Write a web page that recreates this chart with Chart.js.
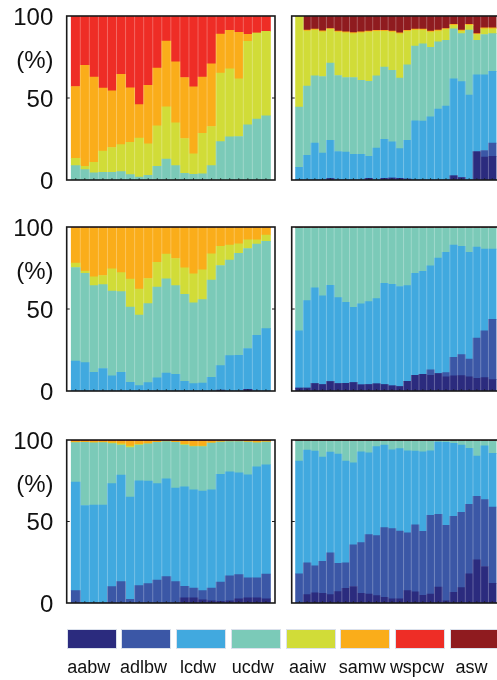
<!DOCTYPE html>
<html>
<head>
<meta charset="utf-8">
<script src="https://cdn.jsdelivr.net/npm/chart.js@4.4.1/dist/chart.umd.min.js"></script>
<style>
  html, body { margin: 0; padding: 0; background: #fff; overflow: hidden; width: 497px; height: 680px; }
  body { position: relative; font-family: 'Liberation Sans', Arial, Helvetica, sans-serif; color: #111; }
  canvas { position: absolute; }
  .pct { position: absolute; left: 0; width: 53.5px; text-align: right; font-size: 24px; line-height: 28px; }
  .key { position: absolute; top: 629px; width: 50px; height: 20px; box-sizing: border-box; border: 1px solid #dbe1ec; }
  .key-label { position: absolute; top: 656px; width: 80px; text-align: center; font-size: 18px; line-height: 22px; white-space: nowrap; }
</style>
</head>
<body>
<script>
// water masses, bottom of the stack first
const waterMasses = ['aabw', 'adlbw', 'lcdw', 'ucdw', 'aaiw', 'samw', 'wspcw', 'asw'];
const massColors = ['#2b2b7e', '#3b57a6', '#41a9df', '#7bcab8', '#d1dc38', '#faad1a', '#ee2d26', '#8f1b1f'];
const yTicks = [0, 50, 100];

// bar positions (one per profile)
const leftBars = Array.from({ length: 22 }, (_, i) => i + 1);
const rightBars = Array.from({ length: 26 }, (_, i) => i + 1);

// top left panel (% of each water mass)
const panelA = {
    ucdw:  [8.8, 6.3, 4.3, 4.7, 4.7, 5.1, 3.3, 1.8, 2.9, 8.4, 12.8, 8.8, 4.1, 3.5, 3.7, 8.8, 23.4, 26.3, 26.5, 33.6, 37.1, 39.1],
    aaiw:  [4.4, 2.1, 6.5, 13.0, 15.1, 16.5, 19.7, 23.7, 19.1, 24.6, 31.8, 26.0, 21.2, 12.4, 24.8, 23.8, 41.8, 41.5, 35.2, 50.9, 52.5, 51.5],
    samw:  [43.8, 61.5, 51.9, 38.3, 34.6, 42.8, 33.2, 20.5, 35.8, 35.2, 40.1, 37.3, 37.2, 40.9, 34.2, 38.3, 23.8, 23.4, 28.3, 4.3, 0, 0],
    wspcw: [43.0, 30.1, 37.3, 44.0, 45.6, 35.6, 43.8, 54.0, 42.2, 31.8, 15.3, 27.9, 37.5, 43.2, 37.3, 29.1, 11.0, 8.8, 10.0, 11.2, 10.4, 9.4]
};

// top right panel
const panelB = {
    aabw:  [0, 0, 0, 0, 0.8, 0, 0, 0, 0, 1.0, 0, 1.0, 1.2, 1.0, 0.5, 0, 0, 0, 0, 0, 2.5, 1.5, 0, 17.0, 13.9, 14.5],
    adlbw: [0, 0, 0, 0, 0, 0, 0, 0, 0, 0, 0, 0, 0, 0, 0, 0, 0, 0, 0, 0, 0, 0, 0, 0.5, 4.1, 8.0],
    lcdw:  [7.8, 15.0, 22.5, 16.4, 23.4, 17.4, 17.0, 15.6, 15.6, 13.5, 19.5, 23.8, 22.0, 18.1, 23.7, 36.1, 35.9, 38.5, 43.2, 45.1, 59.2, 58.5, 51.8, 46.6, 46.1, 43.7],
    ucdw:  [36.7, 42.2, 41.0, 46.7, 47.1, 46.3, 45.5, 46.9, 45.1, 45.7, 44.0, 44.1, 43.6, 43.0, 46.1, 45.5, 47.1, 42.4, 41.0, 40.1, 30.5, 29.3, 39.6, 21.1, 24.6, 23.1],
    aaiw:  [55.5, 33.6, 27.9, 27.3, 20.5, 26.5, 27.3, 26.8, 29.1, 30.0, 27.1, 21.7, 23.4, 27.0, 20.3, 9.8, 8.4, 9.3, 6.6, 6.6, 2.1, 1.5, 2.9, 3.5, 3.5, 2.9],
    samw:  [0, 0.6, 0.6, 0.6, 0.6, 0.6, 0.6, 0.6, 0.6, 0.6, 0.6, 0.6, 0.6, 0.6, 0.6, 0.6, 0.6, 0.6, 0.6, 0.6, 0.6, 0.6, 0.6, 0.6, 0.6, 0.6],
    asw:   [0, 8.6, 8.0, 9.0, 7.6, 9.2, 9.6, 10.1, 9.6, 9.2, 8.8, 8.8, 9.2, 10.3, 8.8, 8.0, 8.0, 9.2, 8.6, 7.6, 5.1, 8.6, 5.1, 10.7, 7.2, 7.2]
};

// middle left panel
const panelC = {
    aabw:  [0, 0, 0, 0, 0, 0, 0, 0, 0, 0, 0, 0, 0, 0, 0, 0, 0.6, 0, 0, 1.0, 0, 0],
    lcdw:  [18.2, 17.3, 11.4, 13.7, 9.2, 11.4, 5.3, 3.3, 5.1, 8.0, 11.0, 10.2, 5.9, 4.5, 4.9, 8.4, 14.9, 21.6, 21.8, 24.9, 33.9, 38.0],
    ucdw:  [57.1, 54.5, 52.9, 51.2, 51.8, 49.2, 45.9, 43.0, 48.2, 55.3, 57.4, 54.1, 53.1, 49.2, 50.8, 59.2, 61.0, 58.2, 62.1, 61.0, 55.7, 53.2],
    aaiw:  [2.7, 1.3, 5.3, 5.5, 13.5, 11.6, 17.0, 15.9, 15.3, 15.1, 15.1, 16.5, 16.1, 17.7, 18.2, 16.1, 11.7, 9.2, 5.9, 5.3, 2.6, 3.9],
    samw:  [21.5, 26.4, 29.9, 29.1, 25.0, 27.3, 31.3, 37.3, 30.9, 21.1, 16.0, 18.7, 24.4, 28.1, 25.6, 15.8, 11.3, 10.5, 9.7, 7.3, 7.3, 4.4],
    wspcw: [0.5, 0.5, 0.5, 0.5, 0.5, 0.5, 0.5, 0.5, 0.5, 0.5, 0.5, 0.5, 0.5, 0.5, 0.5, 0.5, 0.5, 0.5, 0.5, 0.5, 0.5, 0.5]
};

// middle right panel
const panelD = {
    aabw:  [1.8, 1.8, 4.5, 3.9, 5.7, 4.5, 4.7, 5.1, 3.7, 3.9, 4.3, 3.9, 3.1, 2.7, 5.9, 9.6, 10.2, 9.5, 10.6, 8.6, 9.2, 9.4, 8.6, 7.8, 8.2, 6.9],
    adlbw: [0, 0, 0, 0, 0, 0, 0, 0, 0, 0, 0, 0, 0, 0, 0, 0, 0, 3.4, 0, 2.6, 11.4, 12.8, 10.8, 24.4, 28.5, 36.8],
    lcdw:  [34.9, 53.3, 58.4, 54.1, 58.8, 52.4, 49.4, 45.9, 49.4, 50.6, 52.0, 61.8, 62.0, 61.0, 58.4, 62.2, 62.7, 63.4, 70.4, 73.3, 68.4, 66.0, 65.1, 55.6, 49.8, 42.8],
    ucdw:  [62.7, 44.3, 36.5, 41.4, 34.9, 42.5, 45.3, 48.4, 46.3, 44.9, 43.1, 33.7, 34.3, 35.7, 35.1, 27.6, 26.5, 23.1, 18.4, 14.9, 10.4, 11.2, 14.9, 11.6, 12.9, 12.9],
    asw:   [0.6, 0.6, 0.6, 0.6, 0.6, 0.6, 0.6, 0.6, 0.6, 0.6, 0.6, 0.6, 0.6, 0.6, 0.6, 0.6, 0.6, 0.6, 0.6, 0.6, 0.6, 0.6, 0.6, 0.6, 0.6, 0.6]
};

// bottom left panel
const panelE = {
    aabw:  [0, 0, 0, 0, 0, 0, 0, 0, 0, 0, 0, 0, 3.1, 3.1, 2.0, 1.4, 1.0, 1.4, 2.5, 3.1, 3.1, 2.5],
    adlbw: [7.6, 0, 0, 0, 10.0, 13.1, 2.3, 10.7, 11.9, 14.1, 16.2, 13.1, 7.1, 6.1, 5.6, 7.8, 11.9, 15.2, 14.9, 12.3, 12.3, 15.3],
    lcdw:  [66.6, 59.8, 60.0, 60.0, 63.2, 65.4, 62.7, 64.3, 62.9, 59.1, 60.0, 57.4, 61.1, 60.3, 61.0, 60.3, 66.0, 63.9, 62.5, 63.3, 68.2, 67.0],
    ucdw:  [24.2, 38.8, 38.2, 38.4, 24.6, 18.4, 30.3, 21.9, 22.8, 25.4, 22.8, 28.1, 25.6, 26.4, 27.3, 28.6, 19.9, 18.5, 19.1, 20.1, 14.6, 14.0],
    aaiw:  [0, 0, 0, 0, 0.4, 0.8, 1.0, 0.4, 0, 0, 0, 0, 0.4, 0.4, 0.4, 0, 0, 0, 0, 0, 0, 0],
    samw:  [0.8, 0.6, 1.0, 0.8, 1.0, 1.5, 2.9, 1.9, 1.6, 0.6, 0.2, 0.6, 1.9, 2.9, 2.9, 1.1, 0.4, 0.2, 0.2, 0.4, 1.0, 0.4],
    wspcw: [0.8, 0.8, 0.8, 0.8, 0.8, 0.8, 0.8, 0.8, 0.8, 0.8, 0.8, 0.8, 0.8, 0.8, 0.8, 0.8, 0.8, 0.8, 0.8, 0.8, 0.8, 0.8]
};

// bottom right panel
const panelF = {
    aabw:  [0, 5.1, 6.2, 6.0, 5.1, 7.0, 9.0, 10.1, 6.0, 5.5, 4.5, 3.5, 2.5, 2.5, 7.6, 6.8, 4.7, 5.5, 9.7, 1.4, 6.6, 9.4, 17.9, 26.5, 22.4, 12.1],
    adlbw: [17.9, 19.5, 16.6, 19.5, 25.7, 17.4, 15.6, 25.6, 31.0, 36.4, 36.8, 42.7, 43.1, 41.6, 35.5, 41.2, 39.2, 48.3, 44.7, 46.2, 46.6, 46.2, 42.7, 39.0, 41.0, 46.8],
    lcdw:  [69.2, 69.2, 70.4, 64.0, 61.8, 67.0, 62.5, 50.3, 55.8, 50.3, 54.6, 50.7, 48.4, 50.6, 50.3, 45.2, 48.9, 39.6, 44.4, 51.0, 44.7, 41.3, 34.3, 24.6, 33.1, 32.9],
    ucdw:  [12.3, 5.6, 6.2, 9.9, 6.8, 8.0, 12.3, 13.4, 6.6, 7.2, 3.5, 2.5, 5.4, 4.7, 6.0, 6.2, 6.6, 6.0, 0.6, 0.8, 1.5, 2.5, 4.5, 9.3, 2.9, 7.6],
    asw:   [0.6, 0.6, 0.6, 0.6, 0.6, 0.6, 0.6, 0.6, 0.6, 0.6, 0.6, 0.6, 0.6, 0.6, 0.6, 0.6, 0.6, 0.6, 0.6, 0.6, 0.6, 0.6, 0.6, 0.6, 0.6, 0.6]
};

// frame, faint bar edges and the little inward ticks
const panelFrame = {
    id: 'panelFrame',
    afterDatasetsDraw(chart) {
        const { ctx, chartArea: a } = chart;
        const x = chart.scales.x, y = chart.scales.y;
        const bars = chart.data.labels;
        ctx.save();
        ctx.strokeStyle = 'rgba(255,255,255,0.35)';
        ctx.lineWidth = 0.8;
        for (let i = 0; i < bars.length - 1; i++) {
            const px = x.getPixelForValue(bars[i] + 0.5);
            ctx.beginPath();
            ctx.moveTo(px, a.top);
            ctx.lineTo(px, a.bottom);
            ctx.stroke();
        }
        ctx.strokeStyle = 'rgba(30,30,30,0.7)';
        ctx.lineWidth = 1;
        bars.forEach(b => {
            const px = x.getPixelForValue(b);
            ctx.beginPath();
            ctx.moveTo(px, a.bottom);
            ctx.lineTo(px, a.bottom - 2);
            ctx.stroke();
        });
        const mid = y.getPixelForValue(50);
        ctx.strokeStyle = '#1a1a1a';
        ctx.beginPath();
        ctx.moveTo(a.left, mid); ctx.lineTo(a.left + 3, mid);
        ctx.moveTo(a.right, mid); ctx.lineTo(a.right - 3, mid);
        ctx.stroke();
        ctx.lineWidth = 1.6;
        ctx.strokeRect(a.left, a.top, a.right - a.left, a.bottom - a.top);
        ctx.restore();
    }
};

const PAD = 30;

function makePanel(panel, bars, left, top, height, withAxis) {
    const canvas = document.createElement('canvas');
    const w = withAxis ? 280 : 230;
    const h = height + 2 * PAD;
    canvas.width = w;
    canvas.height = h;
    canvas.style.left = left + 'px';
    canvas.style.top = (top - PAD) + 'px';
    canvas.style.width = w + 'px';
    canvas.style.height = h + 'px';
    document.body.appendChild(canvas);

    const datasets = waterMasses
        .map((name, k) => ({ label: name, data: panel[name], backgroundColor: massColors[k] }))
        .filter(d => d.data);

    const yAxis = {
        stacked: true, min: 0, max: 100,
        display: withAxis,
        grid: { display: false, drawTicks: false },
        border: { display: false },
        afterBuildTicks: s => { s.ticks = yTicks.map(v => ({ value: v })); },
        ticks: {
            padding: 13.4,
            labelOffset: 2,
            color: '#111',
            font: { family: "'Liberation Sans', Arial, Helvetica, sans-serif", size: 24 }
        }
    };
    if (withAxis) yAxis.afterFit = s => { s.width = 66.7; };

    return new Chart(canvas, {
        type: 'bar',
        data: { labels: bars, datasets: datasets },
        options: {
            responsive: false,
            animation: false,
            layout: { padding: { top: PAD, bottom: PAD, left: withAxis ? 0 : 6.7, right: withAxis ? 5 : 15 } },
            datasets: { bar: { barPercentage: 1, categoryPercentage: 1, borderWidth: 0 } },
            plugins: { legend: { display: false }, tooltip: { enabled: false } },
            scales: {
                x: {
                    type: 'linear', stacked: true, offset: false,
                    min: 0, max: bars.length + 1,
                    ticks: { stepSize: 1 },
                    display: false
                },
                y: yAxis
            }
        },
        plugins: [panelFrame]
    });
}

const rows = [16, 227, 440];
const rowHeight = [164, 164, 163];

makePanel(panelA, leftBars, 0, rows[0], rowHeight[0], true);
makePanel(panelB, rightBars, 285, rows[0], rowHeight[0], false);
makePanel(panelC, leftBars, 0, rows[1], rowHeight[1], true);
makePanel(panelD, rightBars, 285, rows[1], rowHeight[1], false);
makePanel(panelE, leftBars, 0, rows[2], rowHeight[2], true);
makePanel(panelF, rightBars, 285, rows[2], rowHeight[2], false);

rows.forEach(t => {
    const lab = document.createElement('div');
    lab.className = 'pct';
    lab.style.top = (t + 30) + 'px';
    lab.textContent = '(%)';
    document.body.appendChild(lab);
});

// colour key along the bottom
waterMasses.forEach((name, k) => {
    const x = 66.7 + 54.7 * k;
    const box = document.createElement('div');
    box.className = 'key';
    box.style.left = x + 'px';
    box.style.background = massColors[k];
    document.body.appendChild(box);

    const lab = document.createElement('div');
    lab.className = 'key-label';
    lab.style.left = (x + 25 - 40 - 3) + 'px';
    lab.textContent = name;
    document.body.appendChild(lab);
});
</script>
</body>
</html>
